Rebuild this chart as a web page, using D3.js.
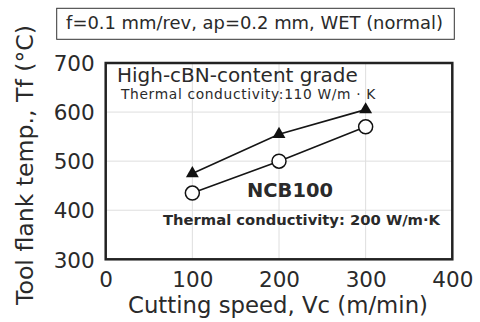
<!DOCTYPE html>
<html>
<head>
<meta charset="utf-8">
<script src="https://cdn.jsdelivr.net/npm/d3@7"></script>
<style>
  body { margin: 0; background: #fff; }
  svg { display: block; font-family: "DejaVu Sans", Verdana, sans-serif; }
</style>
</head>
<body>
<svg id="chart" width="480" height="322"></svg>
<script>
// cutting speed (m/min)
const speeds = [100, 200, 300];
// tool flank temperature (°C)
const highCbnTemps = [475, 555, 605];
const ncb100Temps = [435, 500, 570];

const xTicks = [0, 100, 200, 300, 400];
const yTicks = [300, 400, 500, 600, 700];

const txtCol = "#2a2a2a";

// scale a text's font so it spans the given width
function fitWidth(sel, w) {
    const len = sel.node().getComputedTextLength();
    const fs = parseFloat(sel.attr("font-size"));
    sel.attr("font-size", (fs * w / len).toFixed(2));
    return sel;
}

// widen a text by letter spacing instead of size
function fitSpacing(sel, w) {
    const len = sel.node().getComputedTextLength();
    const n = sel.text().length;
    sel.attr("letter-spacing", ((w - len) / n).toFixed(2));
    return sel;
}

const svg = d3.select("svg#chart"),
    margin = {top: 63, right: 27.7, bottom: 62.7, left: 105.7},
    width = +svg.attr("width") - margin.left - margin.right,
    height = +svg.attr("height") - margin.top - margin.bottom,
    g = svg.append("g").attr("transform", "translate(" + margin.left + "," + margin.top + ")");

const x = d3.scaleLinear().domain([0, 400]).range([0, width]);
const y = d3.scaleLinear().domain([300, 700]).range([height, 0]);

// grid
g.selectAll(".vgrid")
    .data(xTicks.slice(1, -1))
    .enter().append("line")
    .attr("x1", d => x(d)).attr("x2", d => x(d))
    .attr("y1", 0).attr("y2", height)
    .attr("stroke", "#dedede").attr("stroke-width", 1);
g.selectAll(".hgrid")
    .data(yTicks.slice(1, -1))
    .enter().append("line")
    .attr("x1", 0).attr("x2", width)
    .attr("y1", d => y(d)).attr("y2", d => y(d))
    .attr("stroke", "#dedede").attr("stroke-width", 1);

// axes (labels only, frame drawn separately)
const xAxis = g.append("g")
    .attr("transform", "translate(0," + height + ")")
    .call(d3.axisBottom(x).tickValues(xTicks).tickSize(0).tickPadding(12));
const yAxis = g.append("g")
    .call(d3.axisLeft(y).tickValues(yTicks).tickSize(0).tickPadding(11));
[xAxis, yAxis].forEach(a => {
    a.select(".domain").remove();
    a.selectAll("text")
        .attr("font-family", "DejaVu Sans, sans-serif")
        .attr("font-size", 21.5)
        .attr("fill", txtCol);
});
yAxis.selectAll("text").attr("dy", "0.36em");

// frame
g.append("rect")
    .attr("width", width).attr("height", height)
    .attr("fill", "none").attr("stroke", "#222").attr("stroke-width", 2.5);

// series lines
const line = d3.line().x((d, i) => x(speeds[i])).y(d => y(d));
[highCbnTemps, ncb100Temps].forEach(s => {
    g.append("path").datum(s)
        .attr("d", line)
        .attr("fill", "none").attr("stroke", "#151515").attr("stroke-width", 1.6);
});

// triangles
g.selectAll(".tri")
    .data(highCbnTemps)
    .enter().append("path")
    .attr("d", d3.symbol().type(d3.symbolTriangle).size(72))
    .attr("transform", (d, i) => "translate(" + x(speeds[i]) + "," + y(d) + ")")
    .attr("fill", "#111");

// circles
g.selectAll(".circ")
    .data(ncb100Temps)
    .enter().append("circle")
    .attr("cx", (d, i) => x(speeds[i]))
    .attr("cy", d => y(d))
    .attr("r", 7)
    .attr("fill", "#fff").attr("stroke", "#111").attr("stroke-width", 1.5);

// annotations
fitWidth(svg.append("text")
    .attr("x", 117).attr("y", 82)
    .attr("font-size", 19).attr("fill", txtCol)
    .text("High-cBN-content grade"), 241);
fitSpacing(svg.append("text")
    .attr("x", 121).attr("y", 99)
    .attr("font-size", 13.8).attr("fill", txtCol)
    .text("Thermal conductivity:110 W/m · K"), 255);
fitWidth(svg.append("text")
    .attr("x", 290).attr("y", 197)
    .attr("text-anchor", "middle")
    .attr("font-size", 20).attr("font-weight", "bold").attr("fill", txtCol)
    .text("NCB100"), 86);
fitWidth(svg.append("text")
    .attr("x", 440).attr("y", 225)
    .attr("text-anchor", "end")
    .attr("font-size", 14).attr("font-weight", "bold").attr("fill", txtCol)
    .text("Thermal conductivity: 200 W/m·K"), 277);

// condition box
svg.append("rect")
    .attr("x", 56.7).attr("y", 8.3).attr("width", 397.6).attr("height", 31)
    .attr("fill", "#fff").attr("stroke", "#333").attr("stroke-width", 1);
fitWidth(svg.append("text")
    .attr("x", 254.5).attr("y", 29)
    .attr("text-anchor", "middle")
    .attr("font-size", 16).attr("fill", txtCol)
    .text("f=0.1 mm/rev, ap=0.2 mm, WET (normal)"), 377);

// axis titles
fitWidth(svg.append("text")
    .attr("x", 278).attr("y", 313)
    .attr("text-anchor", "middle")
    .attr("font-size", 20).attr("fill", txtCol)
    .text("Cutting speed, Vc (m/min)"), 300);
fitWidth(svg.append("text")
    .attr("transform", "translate(33,165) rotate(-90)")
    .attr("text-anchor", "middle")
    .attr("font-size", 20).attr("fill", txtCol)
    .text("Tool flank temp., Tf (°C)"), 280);
</script>
</body>
</html>
